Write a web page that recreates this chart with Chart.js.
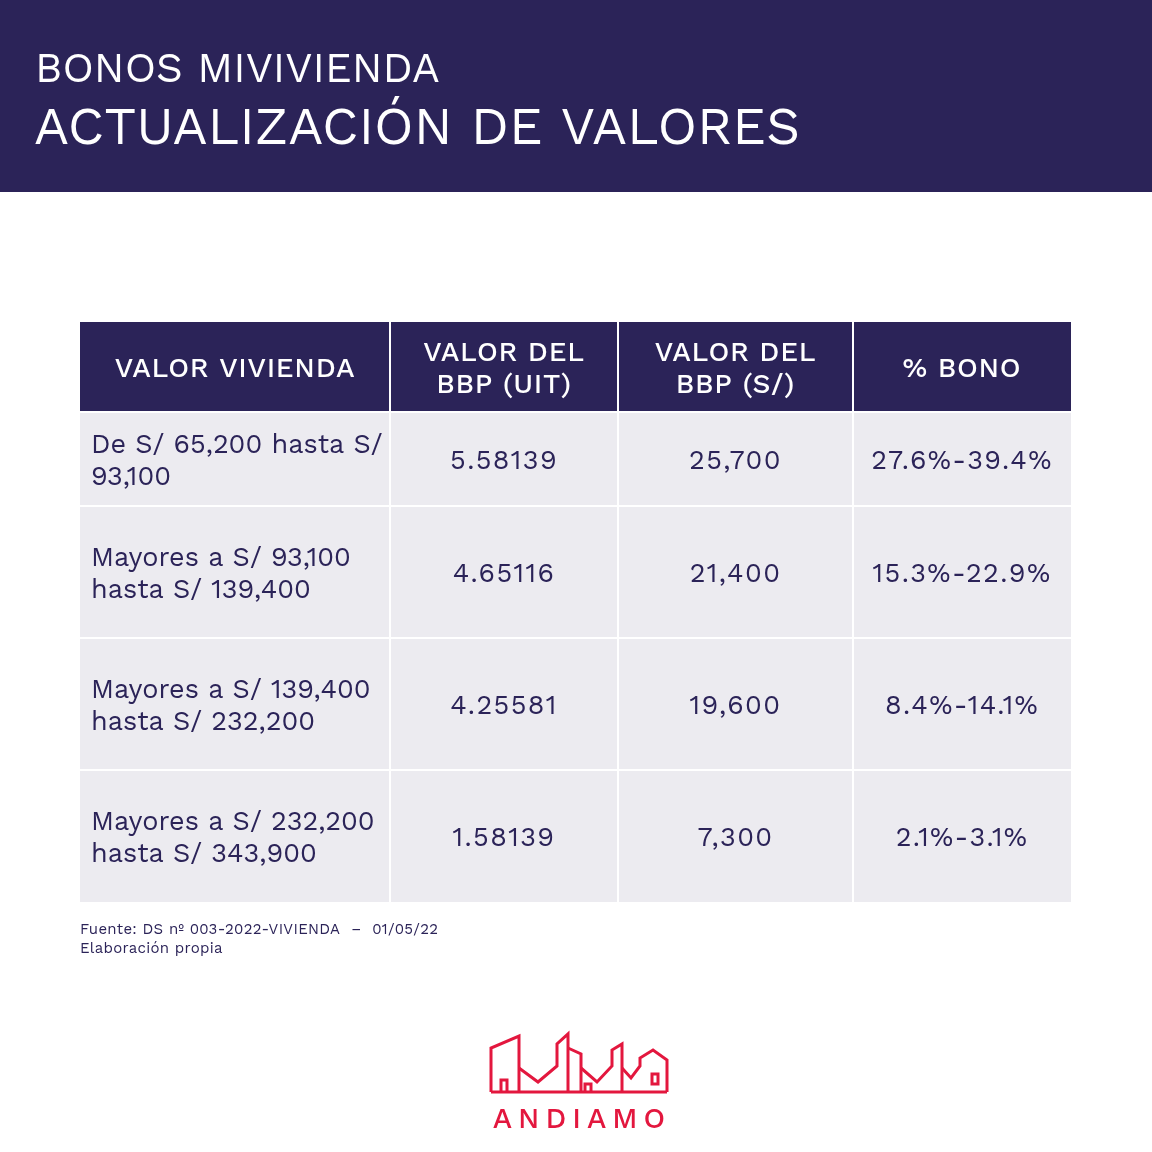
<!DOCTYPE html>
<html><head><meta charset="utf-8">
<script src="https://cdn.jsdelivr.net/npm/chart.js@4"></script>
<style>html,body{margin:0;padding:0;background:#fff}#w{width:1152px;height:1152px}</style>
</head><body><div id="w"><canvas id="c"></canvas></div>
<script>
const headers = [["VALOR VIVIENDA"],["VALOR DEL","BBP (UIT)"],["VALOR DEL","BBP (S/)"],["% BONO"]];
const rangos = [["De S/ 65,200 hasta S/","93,100"],["Mayores a S/ 93,100","hasta S/ 139,400"],["Mayores a S/ 139,400","hasta S/ 232,200"],["Mayores a S/ 232,200","hasta S/ 343,900"]];
const bbpUIT = ["5.58139","4.65116","4.25581","1.58139"];
const bbpSoles = ["25,700","21,400","19,600","7,300"];
const bono = ["27.6%-39.4%","15.3%-22.9%","8.4%-14.1%","2.1%-3.1%"];
const title1 = "BONOS MIVIVIENDA", title2 = "ACTUALIZACIÓN DE VALORES";
const source = ["Fuente: DS nº 003-2022-VIVIENDA  –  01/05/22","Elaboración propia"];

const colEdges=[80,390,618,853,1071];
const rowEdges=[322,412,506,638,770,902];
const NAVY='#2b2358', CELL='#ecebf0', RED='#e3173e';
const F='"Work Sans","Inter","Open Sans",sans-serif';

const tablePlugin={id:'tbl',afterDraw(ch){
 const c=ch.ctx,x=ch.scales.x,y=ch.scales.y;
 const X=v=>x.getPixelForValue(v),Y=v=>y.getPixelForValue(v);
 c.save();
 c.fillStyle=NAVY;c.fillRect(X(0),Y(0),X(1152)-X(0),Y(192)-Y(0));
 c.fillStyle='#fff';c.textBaseline='alphabetic';c.textAlign='left';
 c.font='400 42px '+F;c.fillText(title1,X(35),Y(82));
 c.font='400 53px '+F;c.fillText(title2,X(34),Y(144));
 const rows=[headers].concat(rangos.map((r,i)=>[r,[bbpUIT[i]],[bbpSoles[i]],[bono[i]]]));
 rows.forEach((row,ri)=>{
  row.forEach((lines,ci)=>{
   const x0=X(colEdges[ci]),x1=X(colEdges[ci+1]),y0=Y(rowEdges[ri]),y1=Y(rowEdges[ri+1]);
   c.fillStyle=ri==0?NAVY:CELL;c.fillRect(x0,y0,x1-x0,y1-y0);
   c.fillStyle=ri==0?'#fff':NAVY;
   c.font=(ri==0?'500 28px ':'400 27px ')+F;
   c.letterSpacing=ri==0?'0.7px':(ci==0?'0px':'1.4px');
   c.textBaseline='middle';
   const lh=32,cy=(y0+y1)/2-(lines.length-1)*lh/2+2;
   lines.forEach((t,li)=>{
    if(ri>0&&ci==0){c.textAlign='left';c.fillText(t,x0+11,cy+li*lh);}
    else{c.textAlign='center';c.fillText(t,(x0+x1)/2,cy+li*lh);}
   });
  });
 });
 c.letterSpacing='0px';
 c.strokeStyle='#fff';c.lineWidth=2;
 colEdges.slice(1,-1).forEach(e=>{c.beginPath();c.moveTo(X(e),Y(322));c.lineTo(X(e),Y(902));c.stroke();});
 rowEdges.slice(1,-1).forEach(e=>{c.beginPath();c.moveTo(X(80),Y(e));c.lineTo(X(1071),Y(e));c.stroke();});
 c.fillStyle=NAVY;c.textAlign='left';c.textBaseline='alphabetic';c.font='400 15px '+F;c.letterSpacing='0.3px';
 c.fillText(source[0],X(80),Y(934));c.fillText(source[1],X(80),Y(953));
 c.letterSpacing='0px';
 // logo
 c.strokeStyle=RED;c.lineWidth=3;c.lineJoin='miter';
 const P=pts=>{c.beginPath();pts.forEach((p,i)=>i?c.lineTo(X(p[0]),Y(p[1])):c.moveTo(X(p[0]),Y(p[1])));c.stroke();};
 P([[491,1092],[491,1048],[519,1036],[519,1092]]);
 P([[491,1092],[667,1092]]);
 P([[519,1068],[538,1082],[557,1066],[557,1044],[568,1034],[568,1092]]);
 P([[568,1048],[581,1054],[581,1092]]);
 P([[581,1068],[597,1082],[612,1066],[612,1050],[622,1044],[622,1092]]);
 P([[622,1068],[631,1078],[640,1066],[640,1058],[653,1050],[667,1060],[667,1092]]);
 P([[501,1092],[501,1080],[507,1080],[507,1092]]);
 P([[585,1092],[585,1084],[591,1084],[591,1092]]);
 c.strokeRect(X(652),Y(1074),X(658)-X(652),Y(1084)-Y(1074));
 c.fillStyle=RED;c.font='500 29px '+F;c.textAlign='center';
 c.letterSpacing='6px';c.fillText('ANDIAMO',X(582),Y(1128));
 c.restore();
}};
new Chart(document.getElementById('c'),{type:'scatter',data:{datasets:[{data:[]}]},
 options:{responsive:true,maintainAspectRatio:false,animation:false,layout:{padding:0},
 plugins:{legend:{display:false},tooltip:{enabled:false}},
 scales:{x:{type:'linear',min:0,max:1152,display:false},y:{type:'linear',min:0,max:1152,reverse:true,display:false}}},
 plugins:[tablePlugin]});
</script></body></html>
